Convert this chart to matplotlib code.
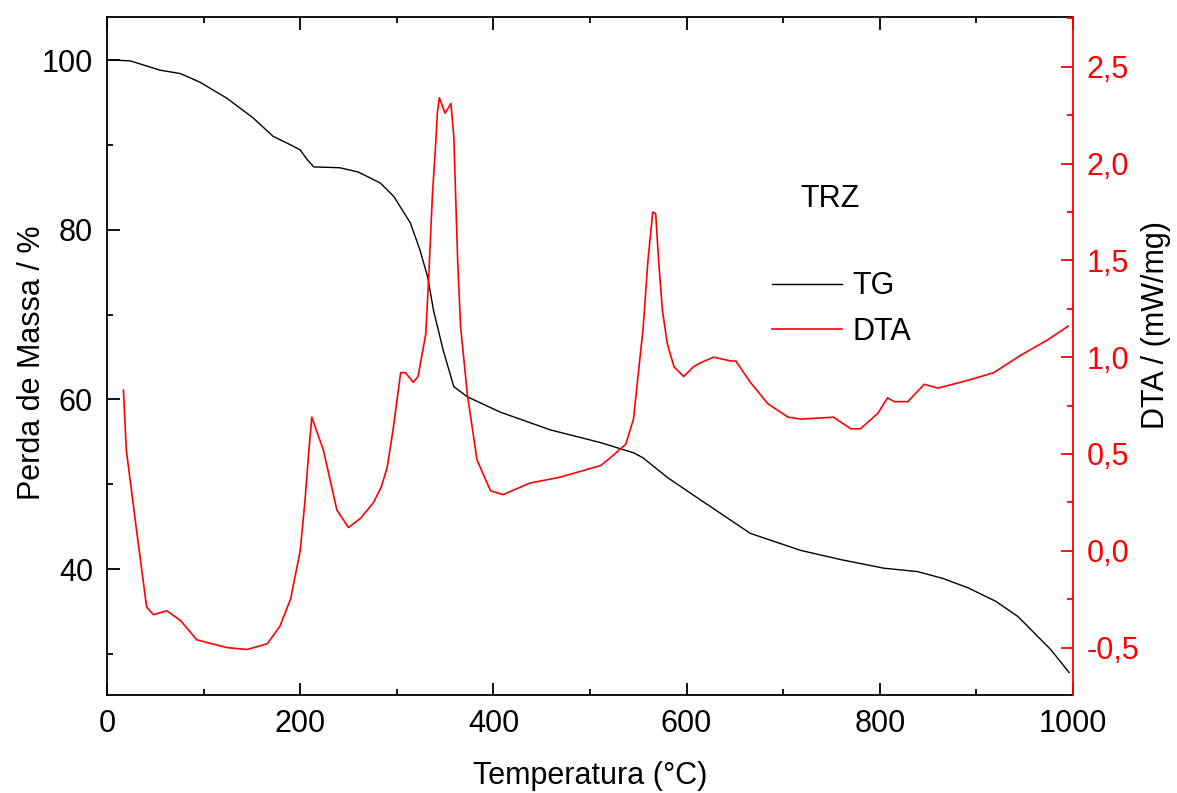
import matplotlib.pyplot as plt
from matplotlib.ticker import MultipleLocator, FuncFormatter
from matplotlib.lines import Line2D

plt.rcParams['font.family'] = ['Liberation Sans', 'DejaVu Sans']

# TG curve (temperature in C, mass %)
tg_temp = [4, 24, 55, 76, 96, 124, 151, 172, 190, 200, 207, 214, 241, 260, 283, 297,
           314, 324, 332, 338, 348, 359, 373, 407, 459, 511, 545, 555, 580, 615,
           666, 718, 760, 804, 839, 865, 891, 920, 943, 977, 996]
tg_mass = [100.0, 99.9, 98.8, 98.4, 97.4, 95.5, 93.2, 91.0, 90.0, 89.4, 88.3, 87.4, 87.3,
           86.8, 85.5, 83.9, 80.8, 77.6, 74.4, 70.5, 65.8, 61.5, 60.3, 58.5, 56.4,
           54.9, 53.7, 53.1, 50.8, 48.1, 44.2, 42.2, 41.1, 40.1, 39.7, 38.9, 37.8,
           36.2, 34.4, 30.5, 27.8]

# DTA curve (temperature in C, mW/mg)
dta_temp = [17, 20, 31, 41, 48, 62, 76, 93, 124, 145, 166, 179, 190, 200, 205, 209, 212,
            224, 238, 250, 263, 276, 284, 290, 296, 304, 309, 317, 322, 330, 333, 337,
            340, 342, 344, 350, 356, 359, 363, 366, 373, 383, 397, 410, 438, 469, 511,
            521, 537, 545, 555, 560, 565, 568, 571, 575, 580, 587, 597, 607, 614, 628,
            646, 651, 666, 684, 705, 718, 752, 770, 780, 798, 808, 815, 829, 846, 860,
            891, 918, 946, 974, 995]
dta_val = [0.83, 0.52, 0.09, -0.29, -0.33, -0.31, -0.36, -0.46, -0.50, -0.51, -0.48,
           -0.39, -0.25, 0.00, 0.26, 0.52, 0.69, 0.52, 0.21, 0.12, 0.17, 0.25, 0.33,
           0.43, 0.62, 0.92, 0.92, 0.87, 0.90, 1.12, 1.41, 1.85, 2.08, 2.26, 2.34, 2.26,
           2.31, 2.14, 1.50, 1.16, 0.81, 0.47, 0.31, 0.29, 0.35, 0.38, 0.44, 0.48, 0.55,
           0.68, 1.15, 1.50, 1.75, 1.74, 1.50, 1.24, 1.07, 0.95, 0.90, 0.95, 0.97, 1.00,
           0.98, 0.98, 0.87, 0.76, 0.69, 0.68, 0.69, 0.63, 0.63, 0.71, 0.79, 0.77, 0.77,
           0.86, 0.84, 0.88, 0.92, 1.01, 1.09, 1.16]

fs = 22
red = '#ff0000'

fig = plt.figure(figsize=(11.77, 7.93), dpi=100)
fig.subplots_adjust(left=107/1177, right=1073/1177, bottom=1 - 695/793, top=1 - 17/793)
ax = fig.add_subplot(111)
ax2 = ax.twinx()

ax.plot(tg_temp, tg_mass, color='black', lw=1.0)
ax2.plot(dta_temp, dta_val, color=red, lw=1.2)

ax.set_xlim(0, 1000)
ax.set_ylim(25.15, 105.07)
ax2.set_ylim(-0.745, 2.757)

ax.xaxis.set_major_locator(MultipleLocator(200))
ax.xaxis.set_minor_locator(MultipleLocator(100))
ax.yaxis.set_major_locator(MultipleLocator(20))
ax.yaxis.set_minor_locator(MultipleLocator(10))
ax2.yaxis.set_major_locator(MultipleLocator(0.5))
ax2.yaxis.set_minor_locator(MultipleLocator(0.25))
ax2.yaxis.set_major_formatter(FuncFormatter(lambda v, p: f"{v:.1f}".replace('.', ',')))

ax.tick_params(which='both', direction='in', top=True, right=False, labelsize=fs, pad=10,
               width=1.3)
ax.tick_params(which='major', length=9)
ax.tick_params(which='minor', length=4.5)
ax2.tick_params(which='both', direction='in', colors=red, labelsize=fs, pad=10, width=1.3)
ax2.tick_params(which='major', length=9)
ax2.tick_params(which='minor', length=4.5)

for s in ['left', 'bottom', 'top']:
    ax.spines[s].set_linewidth(1.3)
ax.spines['right'].set_visible(False)
for s in ['left', 'bottom', 'top']:
    ax2.spines[s].set_visible(False)
ax2.spines['right'].set_color(red)
ax2.spines['right'].set_linewidth(1.3)

ax.set_xlabel('Temperatura (°C)', fontsize=fs)
ax.xaxis.set_label_coords(0.5, -0.097)
ax.set_ylabel('Perda de Massa / %', fontsize=fs)
ax.yaxis.set_label_coords(-0.062, 0.49)
ax2.set_ylabel('DTA / (mW/mg)', fontsize=fs, color='black')
ax2.yaxis.set_label_coords(1.07, 0.545)

ax.text(0.748, 0.732, 'TRZ', transform=ax.transAxes, fontsize=fs, ha='center', va='center')

handles = [Line2D([], [], color='black', lw=1.0), Line2D([], [], color=red, lw=1.2)]
ax2.legend(handles, ['TG', 'DTA'], loc='upper left', bbox_to_anchor=(0.688, 0.625),
           frameon=False, fontsize=fs, borderpad=0, borderaxespad=0, handlelength=2.32,
           handletextpad=0.33, labelspacing=0.5)

fig.savefig('out.png', dpi=100)
